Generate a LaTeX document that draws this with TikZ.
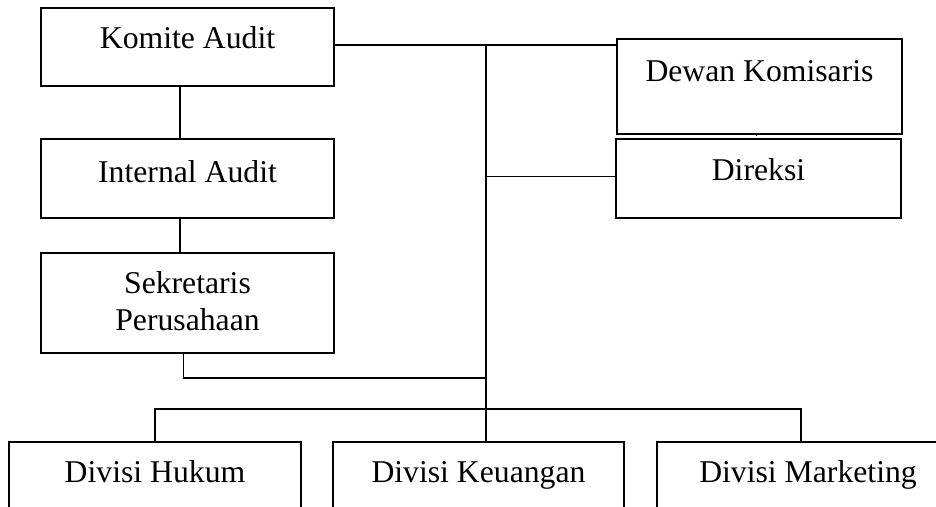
\documentclass[tikz,border=0pt]{standalone}
\usepackage{fontspec}
\setmainfont{Liberation Serif}
\begin{document}
\begin{tikzpicture}[x=1pt,y=-1pt,
  unit/.style={draw=black,line width=1.6pt,inner sep=0pt,outer sep=0pt,
    anchor=north west,align=center,
    font=\fontsize{31.7}{37}\selectfont},
  link/.style={draw=black,line width=1.5pt}]
\useasboundingbox (0,0) rectangle (936,506);
\clip (0,0) rectangle (936,506);

% left column
\node[unit,minimum width=293pt,text height=40pt,text depth=38pt] (komite) at (41,8) {Komite Audit};
\node[unit,minimum width=293pt,text height=43pt,text depth=36pt] (internal) at (41,139) {Internal Audit};
\node[unit,minimum width=293pt,text height=40pt,text depth=60pt] (sekretaris) at (41,253)
  {\begin{tabular}[t]{@{}c@{}}Sekretaris\\Perusahaan\end{tabular}};

% right column
\node[unit,minimum width=285pt,text height=42pt,text depth=53pt] (dewan) at (617,39) {Dewan Komisaris};
\node[unit,minimum width=285pt,text height=41pt,text depth=38pt] (direksi) at (616,139) {Direksi};

% divisions
\node[unit,minimum width=292pt,text height=40pt,text depth=50pt] (hukum) at (9,442) {Divisi Hukum};
\node[unit,minimum width=291pt,text height=40pt,text depth=50pt] (keuangan) at (333,442) {Divisi Keuangan};
\node[unit,minimum width=302pt,text height=40pt,text depth=50pt] (marketing) at (657,442) {Divisi Marketing};

% junction points on the trunk
\coordinate (top) at (486,45);
\coordinate (secjoin) at (486,378);
\coordinate (bus) at (486,409);

% connectors
\draw[link] ([xshift=-7.5pt]komite.south) -- ([xshift=-7.5pt]internal.north);
\draw[link] ([xshift=-7.5pt]internal.south) -- ([xshift=-7.5pt]sekretaris.north);
\draw[link] (komite.east |- top) -- (dewan.west |- top);
\draw[link] (top) -- (keuangan.north -| top);
\draw[link] (top |- direksi.west) ++(0,-2) -- ([yshift=2pt]direksi.west);
\draw[link] ([xshift=-4pt]sekretaris.south) |- (secjoin);
\draw[link] (hukum.north) |- (bus) -| ([xshift=-7pt]marketing.north);
\draw[line width=1pt] ([xshift=-3.5pt]dewan.south) -- ++(0,2);
\end{tikzpicture}
\end{document}
